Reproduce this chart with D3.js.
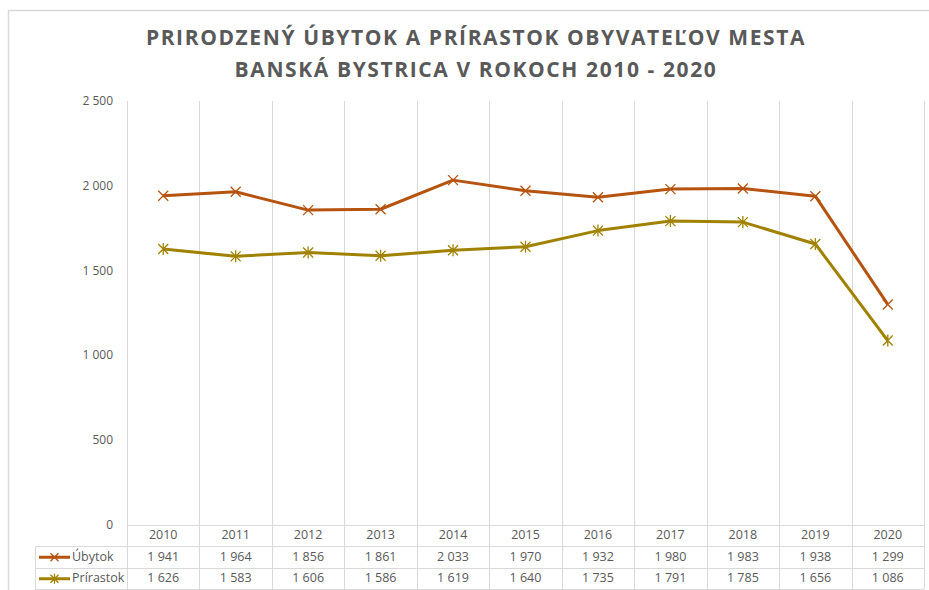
<!DOCTYPE html>
<html>
<head>
<meta charset="utf-8">
<script src="https://cdn.jsdelivr.net/npm/d3@7"></script>
<style>
  body { margin: 0; background: #fff; }
  svg { font-family: 'Open Sans', sans-serif; }
</style>
</head>
<body>
<svg id="chart" width="929" height="590"></svg>
<script>
const years = ['2010','2011','2012','2013','2014','2015','2016','2017','2018','2019','2020'];
const ubytok = [1941, 1964, 1856, 1861, 2033, 1970, 1932, 1980, 1983, 1938, 1299];
const prirastok = [1626, 1583, 1606, 1586, 1619, 1640, 1735, 1791, 1785, 1656, 1086];
const yTicks = [0, 500, 1000, 1500, 2000, 2500];
const seriesNames = ['Úbytok', 'Prírastok'];
const seriesColors = ['#B5530F', '#A08200'];

const svg = d3.select('#chart');
const margin = {left: 127, right: 5, top: 101, plotBottom: 524.5};
const tableLeft = 35;
const rowH = 21.5;

// frame
svg.append('path')
  .attr('d', 'M8.5,590 L8.5,10.5 L929,10.5')
  .attr('fill', 'none').attr('stroke', '#d9d9d9').attr('stroke-width', 1.5);

// title
const title = svg.append('text')
  .attr('text-anchor', 'middle')
  .attr('fill', '#595959')
  .style('font-weight', 700)
  .style('font-size', '21px')
  .style('letter-spacing', '1.6px');
title.append('tspan').attr('x', 476).attr('y', 45).text('PRIRODZENÝ ÚBYTOK A PRÍRASTOK OBYVATEĽOV MESTA');
title.append('tspan').attr('x', 476).attr('y', 77).text('BANSKÁ BYSTRICA V ROKOCH 2010 - 2020');

const x = d3.scaleBand().domain(years).range([margin.left, 929 - margin.right]);
const y = d3.scaleLinear().domain([0, 2500]).range([margin.plotBottom, margin.top]);

const grid = '#d9d9d9';

// vertical gridlines at category edges (plot + table)
const edges = years.map(d => x(d)).concat([x.range()[1]]);
svg.append('g').selectAll('line').data(edges).join('line')
  .attr('x1', d => Math.round(d) + 0.5).attr('x2', d => Math.round(d) + 0.5)
  .attr('y1', y(2500)).attr('y2', margin.plotBottom + rowH * 3)
  .attr('stroke', grid).attr('stroke-width', 1);

// horizontal table lines
const tableY = [0, 1, 2, 3].map(i => margin.plotBottom + i * rowH);
svg.append('g').selectAll('line').data(tableY).join('line')
  .attr('x1', (d, i) => i === 0 ? margin.left : tableLeft)
  .attr('x2', x.range()[1])
  .attr('y1', d => Math.round(d) + 0.5).attr('y2', d => Math.round(d) + 0.5)
  .attr('stroke', grid);
svg.append('line')
  .attr('x1', tableLeft + 0.5).attr('x2', tableLeft + 0.5)
  .attr('y1', tableY[1]).attr('y2', tableY[3])
  .attr('stroke', grid);

// y axis
const yAxis = svg.append('g')
  .attr('transform', `translate(${margin.left},0)`)
  .call(d3.axisLeft(y).tickValues(yTicks).tickSize(0).tickPadding(14)
    .tickFormat(d => d3.format(',')(d).replace(',', ' ')));
yAxis.select('.domain').remove();
yAxis.selectAll('text').attr('fill', '#595959').style('font-size', '12px')
  .style('font-family', "'Open Sans', sans-serif");

// year header
svg.append('g').selectAll('text').data(years).join('text')
  .attr('x', d => x(d) + x.bandwidth() / 2)
  .attr('y', tableY[0] + rowH / 2 + 4)
  .attr('text-anchor', 'middle').attr('fill', '#595959')
  .style('font-size', '12.5px')
  .text(d => d);

const fmt = v => d3.format(',')(v).replace(',', ' ');
const allSeries = [ubytok, prirastok];

allSeries.forEach((vals, si) => {
  const col = seriesColors[si];
  const line = d3.line().x((d, i) => x(years[i]) + x.bandwidth() / 2).y(d => y(d));
  svg.append('path').datum(vals)
    .attr('d', line)
    .attr('fill', 'none').attr('stroke', col).attr('stroke-width', 3)
    .attr('stroke-linejoin', 'round');

  const m = 5;
  const g = svg.append('g');
  vals.forEach((v, i) => {
    const cx = x(years[i]) + x.bandwidth() / 2, cy = y(v);
    let d = `M${cx - m},${cy - m}L${cx + m},${cy + m}M${cx - m},${cy + m}L${cx + m},${cy - m}`;
    if (si === 1) d += `M${cx},${cy - m - 1}L${cx},${cy + m + 1}`;
    g.append('path').attr('d', d).attr('stroke', col).attr('stroke-width', 1.3).attr('fill', 'none');
  });

  // table row
  const rowY = tableY[si + 1] + rowH / 2 + 4;
  svg.append('g').selectAll('text').data(vals).join('text')
    .attr('x', (d, i) => x(years[i]) + x.bandwidth() / 2)
    .attr('y', rowY)
    .attr('text-anchor', 'middle').attr('fill', '#595959')
    .style('font-size', '12.5px')
    .text(d => fmt(d));

  // legend key
  const ly = tableY[si + 1] + rowH / 2 + 0.5;
  svg.append('line').attr('x1', 39).attr('x2', 70).attr('y1', ly).attr('y2', ly)
    .attr('stroke', col).attr('stroke-width', 3);
  let kd = `M${54.5 - 4},${ly - 4}L${54.5 + 4},${ly + 4}M${54.5 - 4},${ly + 4}L${54.5 + 4},${ly - 4}`;
  if (si === 1) kd += `M54.5,${ly - 5}L54.5,${ly + 5}`;
  svg.append('path').attr('d', kd).attr('stroke', col).attr('stroke-width', 1.3).attr('fill', 'none');
  svg.append('text').attr('x', 72).attr('y', rowY)
    .attr('fill', '#595959').style('font-size', '12.5px')
    .text(seriesNames[si]);
});
</script>
</body>
</html>
